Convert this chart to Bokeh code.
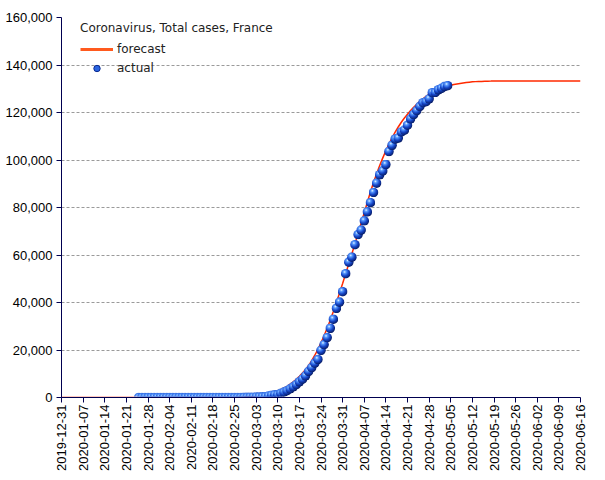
import base64
from math import pi

import pandas as pd
from bokeh.core.properties import value
from bokeh.embed import file_html
from bokeh.models import (ColumnDataSource, DatetimeTickFormatter, FixedTicker,
                          Legend, LegendItem, NumeralTickFormatter, Range1d)
from bokeh.plotting import figure
from bokeh.resources import INLINE

chart_title = "Coronavirus, Total cases, France"
series_names = ["forecast", "actual"]

# actual cumulative cases, daily from 2020-01-25
actual_start = "2020-01-25"
actual_cases = [
    3, 3, 3, 3, 4, 5, 5, 6,
    6, 6, 6, 6, 6, 6, 6,
    11, 11, 11, 11, 11, 11, 11,
    12, 12, 12, 12, 12, 12, 12, 12, 12, 12,
    14, 18, 38, 57, 100,
    130, 191, 204, 285, 377, 653, 949, 1126, 1209, 1784, 2281, 2876, 3661, 4499,
    5423, 6633, 7730, 9134, 10995, 12612, 14459, 16018, 19856, 22302, 25233,
    29155, 32964, 37575, 40174, 44550, 52128,
    56989, 59105, 64338, 68605, 70478, 74390, 78167, 82048, 86334, 90276,
    93790, 95403, 98076, 103573, 106206, 108847, 109252, 111821, 112606, 114657,
    117324, 119151, 120804, 122577, 124114, 124575, 125770, 128339, 128442, 129581,
    130185, 130979, 131287,
]

# forecast cumulative cases, daily from 2019-12-31 to 2020-06-16
forecast_start = "2019-12-31"
forecast_cases = [
    0, 0, 0, 0, 0, 0, 0, 0, 0, 0, 0, 0, 0, 0, 0, 0, 0, 0, 0, 0,
    0, 0, 0, 0, 0, 0, 0, 0, 0, 0, 0, 0, 0, 0, 0, 0, 0, 0, 0, 0,
    0, 0, 0, 0, 0, 0, 0, 0, 0, 0, 0, 0, 0, 0, 0, 0,
    50, 100, 150, 200, 300, 400, 550, 700, 900, 1100,
    1400, 1700, 2100, 2500, 2900, 3400, 4000, 4700, 5600, 6600,
    7700, 8900, 10300, 11800, 13500, 15500, 17800, 20300, 23000, 26000,
    29200, 32600, 36200, 40000, 44000, 48000, 52200, 56300, 60500, 64800,
    69100, 73400, 77800, 82200, 86500, 90500, 94200, 97700, 100900, 103900,
    106700, 109300, 111700, 113900, 115900, 117700, 119300, 120800, 122200, 123500,
    124700, 125800, 126800, 127700, 128500, 129200, 129800, 130300, 130800, 131200,
    131500, 131800, 132000, 132200, 132400, 132600, 132750, 132900, 133000, 133050,
    133100, 133150, 133200, 133220, 133250, 133270, 133280,
    133300, 133300, 133300, 133300, 133300, 133300, 133300, 133300, 133300, 133300,
    133300, 133300, 133300, 133300, 133300, 133300, 133300, 133300, 133300, 133300,
    133300, 133300, 133300, 133300, 133300, 133300,
]

x_tick_labels = [
    "2019-12-31", "2020-01-07", "2020-01-14", "2020-01-21", "2020-01-28",
    "2020-02-04", "2020-02-11", "2020-02-18", "2020-02-25", "2020-03-03",
    "2020-03-10", "2020-03-17", "2020-03-24", "2020-03-31", "2020-04-07",
    "2020-04-14", "2020-04-21", "2020-04-28", "2020-05-05", "2020-05-12",
    "2020-05-19", "2020-05-26", "2020-06-02", "2020-06-09", "2020-06-16",
]
y_ticks = [0, 20000, 40000, 60000, 80000, 100000, 120000, 140000, 160000]

actual_dates = pd.date_range(actual_start, periods=len(actual_cases), freq="D")
forecast_dates = pd.date_range(forecast_start, periods=len(forecast_cases), freq="D")
tick_dates = pd.to_datetime(x_tick_labels)

actual_src = ColumnDataSource(dict(x=actual_dates, y=actual_cases))
forecast_src = ColumnDataSource(dict(x=forecast_dates, y=forecast_cases))

p = figure(
    width=605, height=480, x_axis_type="datetime",
    output_backend="svg", toolbar_location=None,
    x_range=Range1d(tick_dates[0], tick_dates[-1]),
    y_range=Range1d(y_ticks[0], y_ticks[-1]),
    min_border_left=61, min_border_right=25, min_border_top=17, min_border_bottom=83,
)
p.outline_line_color = None
p.background_fill_color = "white"
p.border_fill_color = "white"

p.xgrid.visible = False
p.ygrid.grid_line_color = "#9a9a9a"
p.ygrid.grid_line_dash = "3 2"
p.ygrid.grid_line_width = 1

p.xaxis.ticker = FixedTicker(ticks=[t.timestamp() * 1000 for t in tick_dates])
fmt = "%Y-%m-%d"
p.xaxis.formatter = DatetimeTickFormatter(
    microseconds=fmt, milliseconds=fmt, seconds=fmt, minsec=fmt, minutes=fmt,
    hourmin=fmt, hours=fmt, days=fmt, months=fmt, years=fmt)
p.xaxis.major_label_orientation = pi / 2
p.yaxis.ticker = FixedTicker(ticks=y_ticks)
p.yaxis.formatter = NumeralTickFormatter(format="0,0")

for ax in (p.xaxis[0], p.yaxis[0]):
    ax.axis_line_color = "#000050"
    ax.axis_line_width = 1
    ax.major_tick_line_color = "#000050"
    ax.major_tick_out = 5
    ax.major_tick_in = 0
    ax.minor_tick_line_color = None
    ax.major_label_text_font = "Liberation Sans"
    ax.major_label_text_font_size = "13px"
    ax.major_label_text_color = "black"
p.xaxis.major_label_standoff = 2
p.yaxis.major_label_standoff = 4

# forecast line
p.line("x", "y", source=forecast_src, line_color="#ff2a00", line_width=1.5)

# actual points drawn as shaded spheres
sphere_svg = (
    "<svg xmlns='http://www.w3.org/2000/svg' width='20' height='20'>"
    "<defs><radialGradient id='g' cx='38%' cy='32%' r='68%'>"
    "<stop offset='0' stop-color='#e6f3ff'/>"
    "<stop offset='0.22' stop-color='#5a9cff'/>"
    "<stop offset='0.6' stop-color='#1646c8'/>"
    "<stop offset='1' stop-color='#071c66'/>"
    "</radialGradient></defs>"
    "<circle cx='10' cy='10' r='9.6' fill='url(#g)'/></svg>"
)
sphere_uri = "data:image/svg+xml;base64," + base64.b64encode(sphere_svg.encode()).decode()
p.image_url(url=value(sphere_uri), x="x", y="y", w=10, h=10,
            w_units="screen", h_units="screen", anchor="center", source=actual_src)

# legend-only renderers (one NaN sample each, never visible in the frame)
nan = float("nan")
leg_src = ColumnDataSource(dict(x=[nan], y=[nan]))
leg_line = p.line("x", "y", source=leg_src, line_color="#ff5a1e", line_width=3)
leg_pt = p.scatter("x", "y", source=leg_src, size=9, fill_color="#2a64e0",
                   line_color="#0a2a90", line_width=1)

legend = Legend(
    items=[LegendItem(label=series_names[0], renderers=[leg_line]),
           LegendItem(label=series_names[1], renderers=[leg_pt])],
    title=chart_title,
    location=(19, 321),
    title_text_font="DejaVu Sans", title_text_font_size="12px",
    title_text_font_style="normal", title_text_color="#222222", title_standoff=6,
    label_text_font="DejaVu Sans", label_text_font_size="12px", label_text_color="#222222",
    glyph_width=33, glyph_height=16, label_height=16, spacing=3, padding=3, margin=0,
    label_standoff=4, background_fill_alpha=0, border_line_color=None,
)
p.add_layout(legend)

open("out.html", "w").write(file_html(p, INLINE))
